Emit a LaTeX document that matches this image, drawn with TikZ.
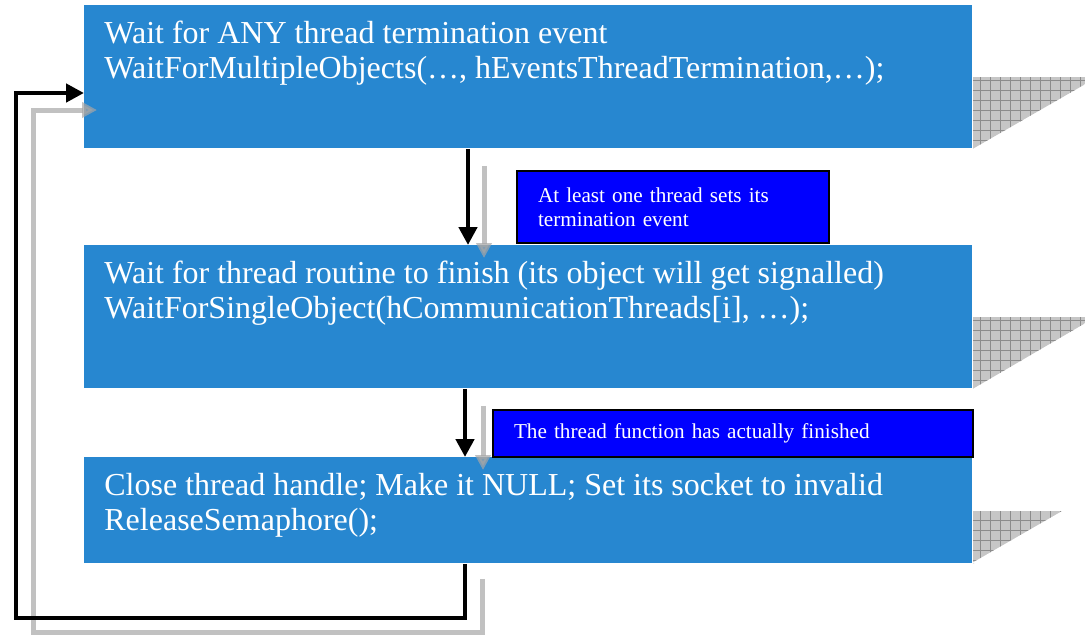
\documentclass[tikz,border=0pt]{standalone}
\usepackage{fontspec}
\setmainfont{Liberation Serif}
\usetikzlibrary{arrows.meta, positioning, calc}
\definecolor{stepblue}{RGB}{39,135,208}
\definecolor{noteblue}{RGB}{0,0,255}
\definecolor{shadowgray}{RGB}{198,198,198}
\definecolor{gridgray}{RGB}{140,140,140}

\begin{document}
\begin{tikzpicture}[x=0.5pt, y=-0.5pt,
      stepbox/.style={fill=stepblue, anchor=north west, inner sep=0pt, minimum width=444pt},
      steptext/.style={text=white, anchor=north west, align=left, inner sep=0pt,
        font=\fontsize{16}{17.5}\selectfont},
      note/.style={draw=black, line width=1pt, fill=noteblue, text=white, anchor=north west,
        align=left, inner xsep=10.5pt, inner ysep=0pt, font=\fontsize{10.6}{12}\selectfont},
      arr/.style={-{Triangle[length=9pt, width=9pt]}, line width=2.4pt},
      ghost/.style={-{Triangle[length=7.5pt, width=7.5pt]}, line width=2.5pt, draw=gray!70, opacity=0.7},
      shade/.style={fill=shadowgray}
    ]
    \useasboundingbox (0,0) rectangle (1085,634);

    \node[stepbox, minimum height=71.5pt] (wait-any)    at (84,5)   {};
    \node[stepbox, minimum height=71.5pt] (wait-single) at (84,245) {};
    \node[stepbox, minimum height=53pt]   (close-h)     at (84,457) {};

    \node[steptext] (wait-any-txt) at ([shift={(20,16)}]wait-any.north west)
      {Wait for ANY thread termination event\\WaitForMultipleObjects(…, hEventsThreadTermination,…);};
    \node[steptext] (wait-single-txt) at ([shift={(20,16)}]wait-single.north west)
      {Wait for thread routine to finish (its object will get signalled)\\WaitForSingleObject(hCommunicationThreads[i], …);};
    \node[steptext] (close-h-txt) at ([shift={(20,16)}]close-h.north west)
      {Close thread handle; Make it NULL; Set its socket to invalid\\ReleaseSemaphore();};

    \foreach \b/\top/\tip in {wait-any/72/7, wait-single/72/6, close-h/53/0} {
      \begin{scope}
        \clip ($(\b.south east)+(0,-\top)$) -- ++(113,0) -- ++(0,\tip) -- (\b.south east) -- cycle;
        \fill[shade] ($(\b.south east)+(0,-\top)$) rectangle ++(113,\top);
        \draw[gridgray, line width=0.4pt, step=5pt] ($(\b.south east)+(0,-\top)$) grid ++(113,\top);
      \end{scope}
    }
    \fill[white] (1064,500) -- (1086,500) -- (1086,570) -- (1064,570) -- cycle;
    \fill[white] (1064,510) -- (972,563) -- (1086,563) -- cycle;

    \node[note, text width=135pt, minimum height=36pt] (sets-event) at (516,170)
      {At least one thread sets its\\termination event};
    \node[note, text width=219pt, minimum height=23.5pt] (finished) at (492,409)
      {The thread function has actually finished};

    \coordinate (drop1) at (468,0);
    \coordinate (drop2) at (465,0);
    \coordinate (loop-br) at (465,618);
    \coordinate (loop-tl) at (16,93);
    \coordinate (ghost-br) at (482,632);
    \coordinate (ghost-tl) at (33,110);

    \draw[ghost] ($(wait-any.south -| drop1)+(16,17)$) -- ($(wait-single.north -| drop1)+(16,13)$);
    \draw[ghost] ($(wait-single.south -| drop2)+(18,17)$) -- ($(close-h.north -| drop2)+(18,13)$);
    \draw[ghost] ($(close-h.south -| ghost-br)+(0,15)$) -- (ghost-br) -| (ghost-tl) -- ($(ghost-tl -| wait-any.west)+(13,0)$);

    \draw[arr] (wait-any.south -| drop1) -- (wait-single.north -| drop1);
    \draw[arr] (wait-single.south -| drop2) -- (close-h.north -| drop2);
    \draw[arr] (close-h.south -| loop-br) -- (loop-br) -| (loop-tl) -- (loop-tl -| wait-any.west);
  \end{tikzpicture}
\end{document}
